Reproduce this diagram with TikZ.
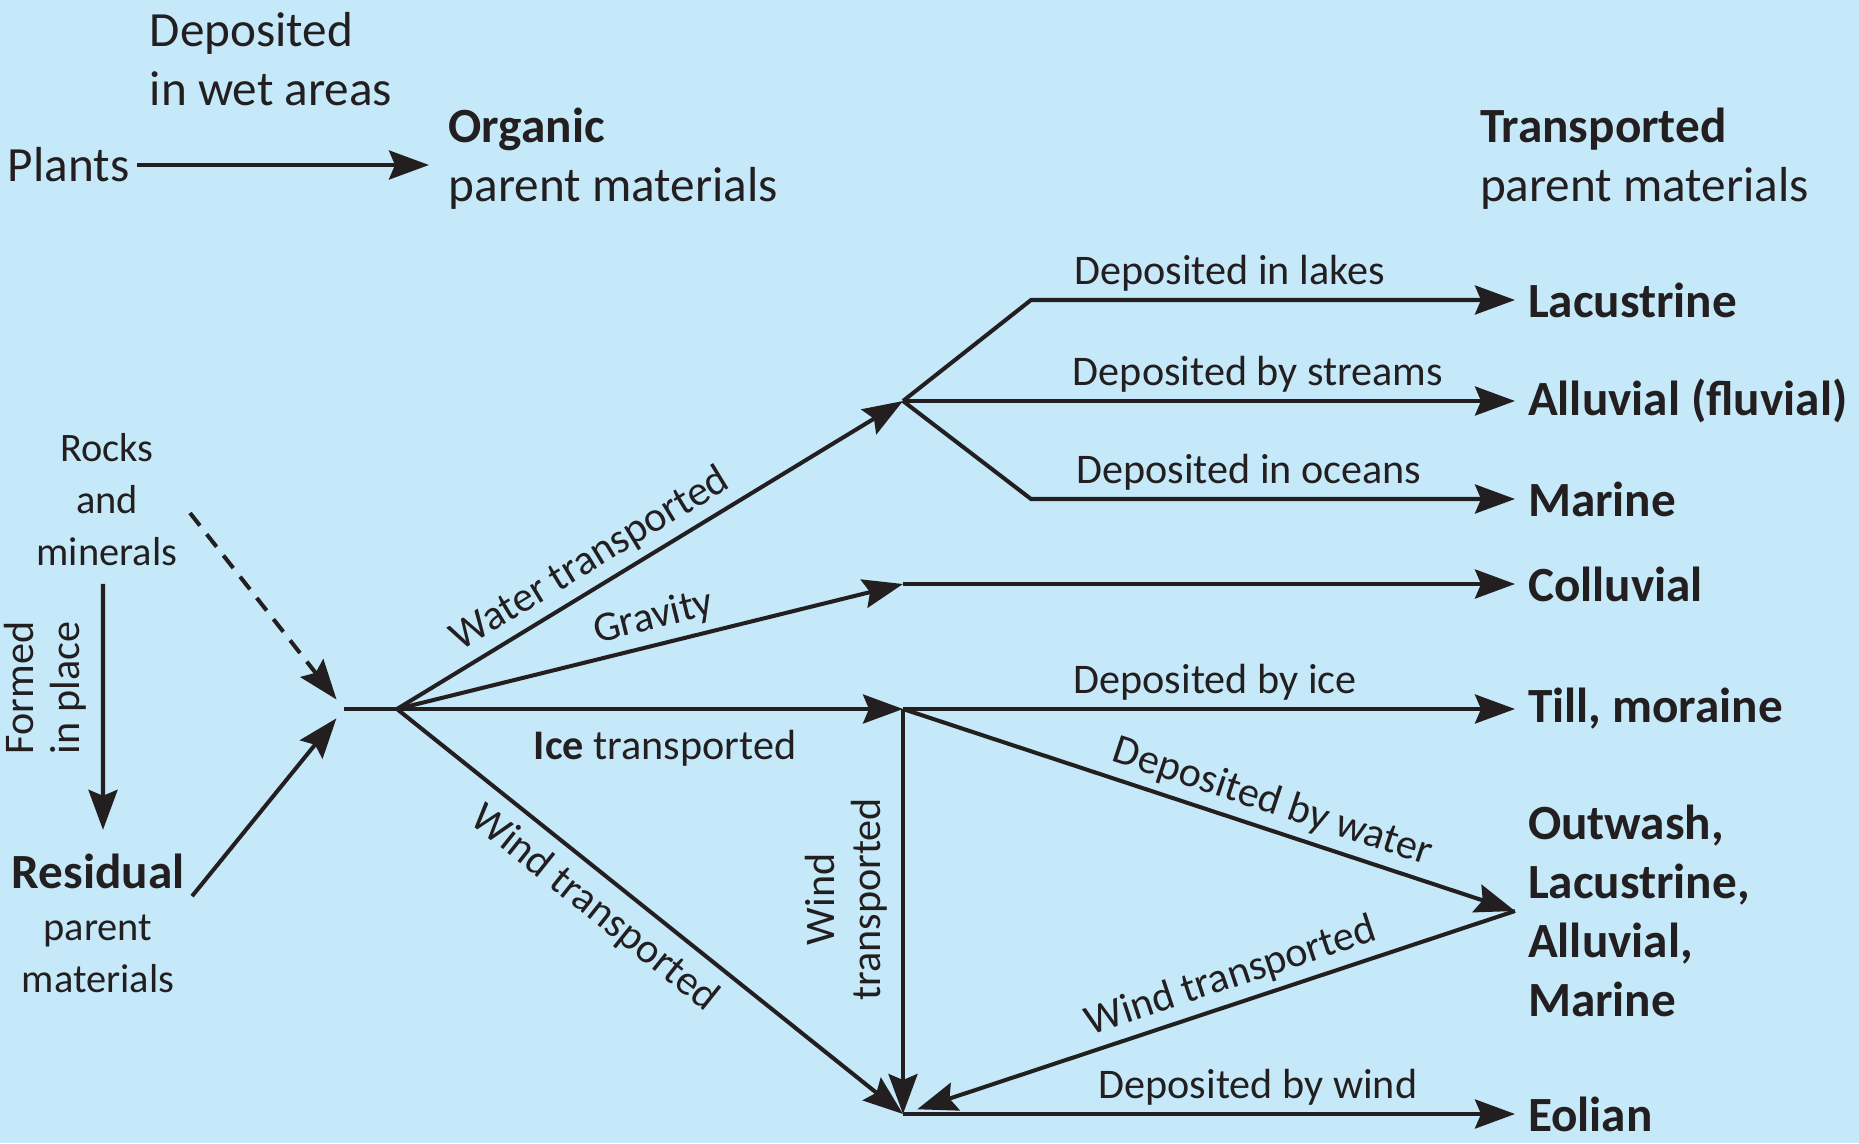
\documentclass[tikz,border=0pt]{standalone}
\usepackage{fontspec}
\setmainfont{Carlito}
\usetikzlibrary{arrows.meta,positioning,calc}
\definecolor{skyback}{RGB}{198,233,249}
\definecolor{ink}{RGB}{35,31,32}

\begin{document}
\begin{tikzpicture}[
    >={Stealth[length=4mm,width=2.9mm,inset=0.6mm]},
    every node/.style={text=ink,inner sep=2pt},
    big/.style={font=\fontsize{14}{16.8}\selectfont,align=left},
    mid/.style={font=\fontsize{11.5}{14.8}\selectfont,align=center},
    lbl/.style={font=\fontsize{12}{13}\selectfont},
    mat/.style={big,anchor=west,inner sep=3.5pt},
    matb/.style={mat,font=\fontsize{14}{16.8}\selectfont\bfseries},
    flow/.style={draw=ink,line width=1.15pt}
]
\useasboundingbox (0,0) rectangle (18.59,-11.43);
\fill[skyback] (0,0) rectangle (18.59,-11.43);

% branch points
\coordinate (J0) at (3.44,-7.09);
\coordinate (F) at (3.97,-7.09);
\coordinate (W) at (9.03,-4.01);
\coordinate (G) at (9.03,-5.84);
\coordinate (I) at (9.03,-7.09);
\coordinate (B) at (9.03,-11.14);
\coordinate (lakec) at (10.31,-3.00);
\coordinate (oceanc) at (10.31,-4.99);
\coordinate (O) at (15.15,-9.11);

% organic
\node[big,anchor=east] (plants) at (1.37,-1.65) {Plants};
\node[big] (wetlbl) at (2.71,-0.59) {Deposited\\in wet areas};
\node[big,anchor=west] (organic) at (4.41,-1.59) {\textbf{Organic}\\parent materials};
\draw[flow,->] (plants.east) -- ([xshift=-1.2mm]plants.east -| organic.west);

% residual
\node[mid] (rocks) at (1.07,-5.00) {Rocks\\and\\minerals};
\node[lbl,rotate=90,align=center] (formed) at (0.45,-6.88) {Formed\\in place};
\node[font=\fontsize{14}{16.8}\selectfont\bfseries] (residual) at (0.98,-8.71) {Residual};
\node[mid] (resparent) at (0.98,-9.54) {parent\\materials};
\draw[flow,->] ([xshift=-0.4mm,yshift=-1mm]rocks.south) -- ([xshift=0.5mm,yshift=1.6mm]residual.north);
\draw[flow,->,dash pattern=on 1.6mm off 1.1mm,shorten >=1.2mm] ([xshift=0.5mm,yshift=-1.3mm]rocks.east) -- (J0);
\draw[flow,->,shorten >=1.2mm] (residual.south east) -- (J0);
\draw[flow] (J0) -- (F);

% transported
\node[mat] (transp) at (14.67,-1.59) {\textbf{Transported}\\parent materials};
\node[matb] (lacus) at (15.15,-3.00) {Lacustrine};
\node[matb] (alluv) at (15.15,-4.01) {Alluvial (fluvial)};
\node[matb] (marine) at (15.15,-4.99) {Marine};
\node[matb] (colluv) at (15.15,-5.84) {Colluvial};
\node[matb] (till) at (15.15,-7.09) {Till, moraine};
\node[matb] (outwash) at (O) {Outwash,\\Lacustrine,\\Alluvial,\\Marine};
\node[matb] (eolian) at (15.15,-11.14) {Eolian};

\draw[flow,->] (F) -- node[lbl,sloped,above,pos=0.41] {Water transported} (W);
\draw[flow,->] (F) -- node[lbl,sloped,above,pos=0.52] {Gravity} (G);
\draw[flow,->] (F) -- node[lbl,below,yshift=-1.2mm,pos=0.53] {\textbf{Ice} transported} (I);
\draw[flow,->] (F) -- node[lbl,sloped,below,inner sep=3.5pt,pos=0.43] {Wind transported} (B);

\draw[flow,->] (W) -- (lakec) -- node[lbl,above,pos=0.41] {Deposited in lakes} (lacus.west);
\draw[flow,->] (W) -- node[lbl,above,pos=0.58] {Deposited by streams} (alluv.west);
\draw[flow,->] (W) -- (oceanc) -- node[lbl,above,pos=0.45] {Deposited in oceans} (marine.west);
\draw[flow,->] (G) -- (colluv.west);
\draw[flow,->] (I) -- node[lbl,above,pos=0.51] {Deposited by ice} (till.west);
\draw[flow,->] (I) -- node[lbl,sloped,above,pos=0.59] {Deposited by water} (outwash.west);
\draw[flow,->] (I) -- node[lbl,rotate=90,anchor=south,align=center,inner sep=4pt,pos=0.47] {Wind\\transported} (B);
\draw[flow,->,shorten >=1.5mm] (outwash.west) -- node[lbl,sloped,above,pos=0.45] {Wind transported} (B);
\draw[flow,->] (B) -- node[lbl,above,pos=0.58] {Deposited by wind} (eolian.west);
\end{tikzpicture}
\end{document}
